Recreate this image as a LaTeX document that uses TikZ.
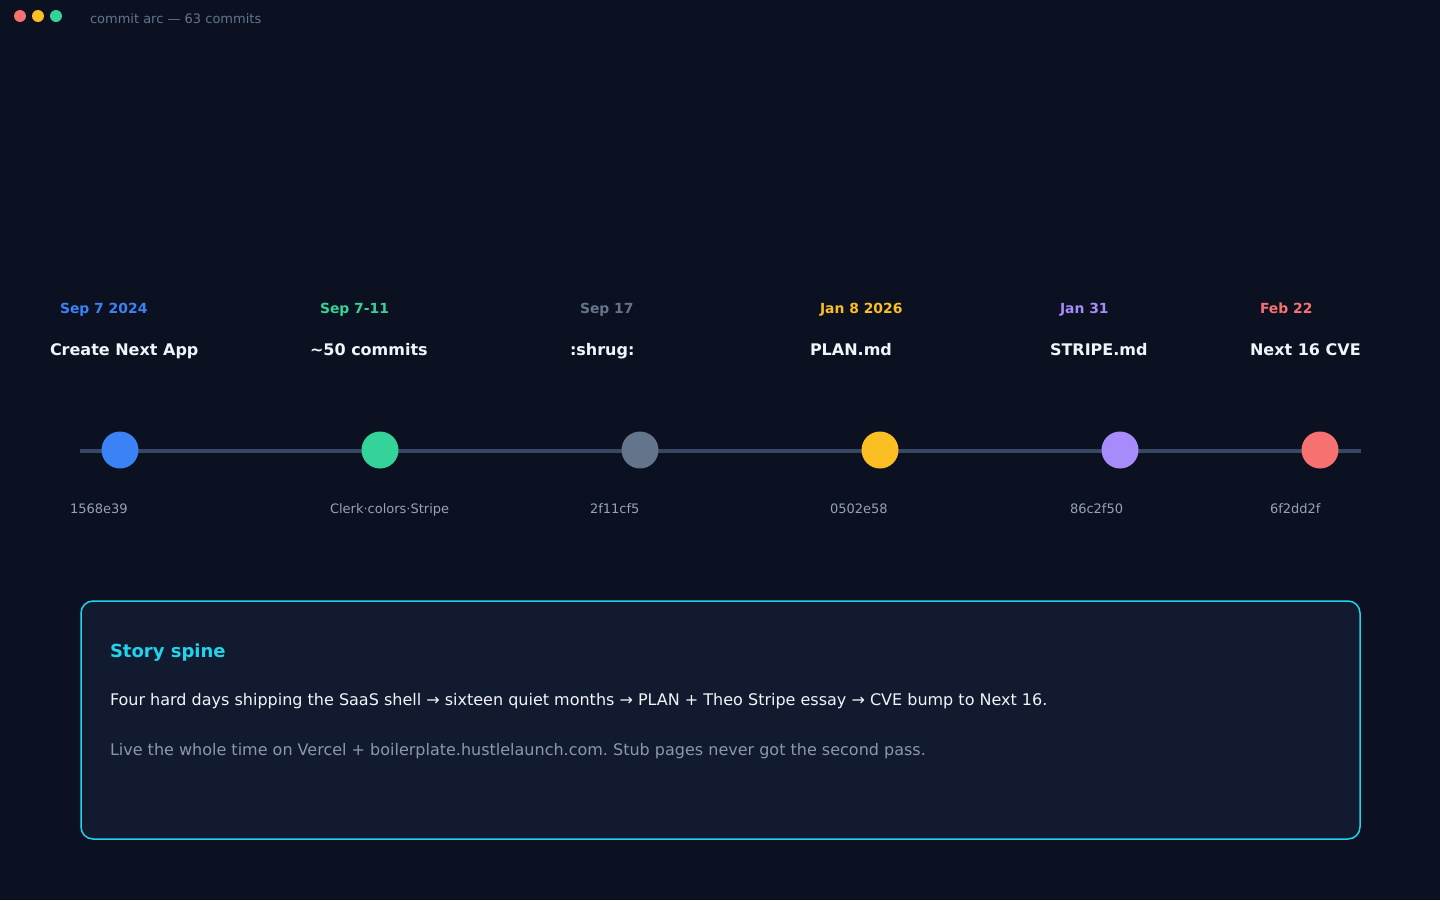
\documentclass[tikz,border=0pt]{standalone}
\usepackage{fontspec}
\setmainfont{DejaVu Sans}
\frenchspacing
\definecolor{bg}{HTML}{0B1120}
\definecolor{panel}{HTML}{111A2E}
\definecolor{cyanb}{HTML}{22D3EE}
\definecolor{track}{HTML}{364863}
\definecolor{cblue}{HTML}{3B82F6}
\definecolor{cgreen}{HTML}{34D399}
\definecolor{cgray}{HTML}{64748B}
\definecolor{cyellow}{HTML}{FBBF24}
\definecolor{cpurple}{HTML}{A78BFA}
\definecolor{cred}{HTML}{F87171}
\definecolor{hashc}{HTML}{94A3B8}
\definecolor{whitec}{HTML}{F1F5F9}
\definecolor{mutec}{HTML}{8A98AE}
\begin{document}
\begin{tikzpicture}[x=1pt,y=-1pt,
  lbl/.style={anchor=base west,inner sep=0pt,outer sep=0pt},
  datelbl/.style={lbl,font=\fontsize{13.9}{16}\selectfont\bfseries},
  titlelbl/.style={lbl,font=\fontsize{16}{19}\selectfont\bfseries,text=whitec},
  hashlbl/.style={lbl,font=\fontsize{13}{15}\selectfont,text=hashc},
  dot/.style={circle,minimum size=37pt,inner sep=0pt,fill=#1},
  wdot/.style={circle,minimum size=12pt,inner sep=0pt,fill=#1}]
\fill[bg] (0,0) rectangle (1440,900);
\useasboundingbox (0,0) rectangle (1440,900);
% window dots
\node[wdot=cred] (w1) at (20,16) {};
\node[wdot=cyellow] (w2) at (38,16) {};
\node[wdot=cgreen] (w3) at (56,16) {};
\node[lbl,font=\fontsize{13}{15}\selectfont,text=cgray] (ttl) at (90,23) {commit arc — 63 commits};
% track
\coordinate (tl) at (80,451);
\coordinate (tr) at (1361,451);
\draw[track,line width=4pt] (tl) -- (tr);
% dots
\node[dot=cblue] (d1) at (120,450) {};
\node[dot=cgreen] (d2) at (380,450) {};
\node[dot=cgray] (d3) at (640,450) {};
\node[dot=cyellow] (d4) at (880,450) {};
\node[dot=cpurple] (d5) at (1120,450) {};
\node[dot=cred] (d6) at (1320,450) {};
% dates
\node[datelbl,text=cblue] (a1) at (60,313) {Sep 7 2024};
\node[datelbl,text=cgreen] (a2) at (320,313) {Sep 7-11};
\node[datelbl,text=cgray] (a3) at (580,313) {Sep 17};
\node[datelbl,text=cyellow] (a4) at (820,313) {Jan 8 2026};
\node[datelbl,text=cpurple] (a5) at (1060,313) {Jan 31};
\node[datelbl,text=cred] (a6) at (1260,313) {Feb 22};
% titles
\node[titlelbl] (t1) at (50,355) {Create Next App};
\node[titlelbl] (t2) at (310,355) {\textasciitilde 50 commits};
\node[titlelbl] (t3) at (570,355) {:shrug:};
\node[titlelbl] (t4) at (810,355) {PLAN.md};
\node[titlelbl] (t5) at (1050,355) {STRIPE.md};
\node[titlelbl] (t6) at (1250,355) {Next 16 CVE};
% hashes
\node[hashlbl] (h1) at (70,513) {1568e39};
\node[hashlbl] (h2) at (330,513) {Clerk·colors·Stripe};
\node[hashlbl] (h3) at (590,513) {2f11cf5};
\node[hashlbl] (h4) at (830,513) {0502e58};
\node[hashlbl] (h5) at (1070,513) {86c2f50};
\node[hashlbl] (h6) at (1270,513) {6f2dd2f};
% story box
\draw[cyanb,fill=panel,line width=1.5pt,rounded corners=12pt] (81,601) rectangle (1360,839);
\node[lbl,font=\fontsize{18}{21}\selectfont\bfseries,text=cyanb] (s0) at (110,657) {Story spine};
\node[lbl,font=\fontsize{16}{19}\selectfont,text=whitec] (s1) at (110,705) {Four hard days shipping the SaaS shell → sixteen quiet months → PLAN + Theo Stripe essay → CVE bump to Next 16.};
\node[lbl,font=\fontsize{16}{19}\selectfont,text=mutec] (s2) at (110,755) {Live the whole time on Vercel + boilerplate.hustlelaunch.com. Stub pages never got the second pass.};
\end{tikzpicture}
\end{document}
